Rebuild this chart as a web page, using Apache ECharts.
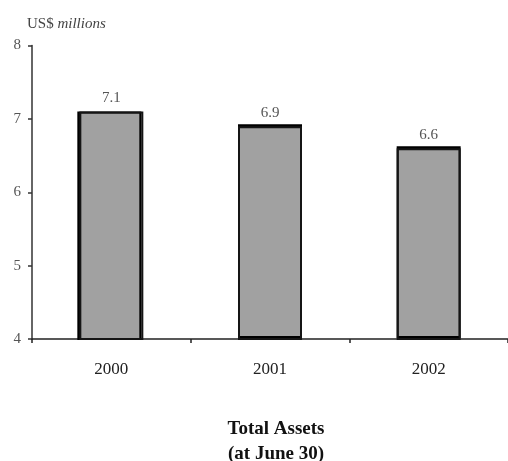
<!DOCTYPE html>
<html>
<head>
<meta charset="utf-8">
<script src="https://cdn.jsdelivr.net/npm/echarts@6/dist/echarts.min.js"></script>
<style>
  html, body { margin: 0; padding: 0; background: #fff; }
  #chart { width: 508px; height: 461px; }
</style>
</head>
<body>
<div id="chart"></div>
<script>
// Total assets by fiscal year (US$ millions, at June 30)
const years = ['2000', '2001', '2002'];
const totalAssets = [7.1, 6.9, 6.6];
const yTicks = { min: 4, max: 8, interval: 1 };

const serif = '"Liberation Serif", "DejaVu Serif", serif';

// heavier edge drawn on one side of each bar
const edgeShadow = [
  { shadowOffsetX: -2, shadowOffsetY: 0 },
  { shadowOffsetX: 0, shadowOffsetY: -2 },
  { shadowOffsetX: 0, shadowOffsetY: -2 }
];

const chart = echarts.init(document.getElementById('chart'), null, { renderer: 'canvas' });

chart.setOption({
  animation: false,
  backgroundColor: '#ffffff',
  grid: { left: 32, top: 45.5, width: 480, height: 293.5, containLabel: false },
  title: [
    {
      text: 'Total Assets\n(at June 30)',
      left: 271,
      textAlign: 'center',
      top: 412,
      textStyle: {
        fontFamily: serif,
        fontWeight: 'bold',
        fontSize: 19,
        lineHeight: 25,
        color: '#111'
      }
    }
  ],
  graphic: [
    {
      type: 'text',
      left: 27,
      top: 17,
      style: {
        rich: {
          a: { fontFamily: serif, fontSize: 15, fill: '#444' },
          b: { fontFamily: serif, fontSize: 15, fontStyle: 'italic', fill: '#444' }
        },
        text: '{a|US$ }{b|millions}'
      }
    }
  ],
  xAxis: {
    type: 'category',
    data: years,
    axisLine: { lineStyle: { color: '#222', width: 1.5 } },
    axisTick: {
      show: true,
      length: 4,
      inside: false,
      interval: 0,
      lineStyle: { color: '#222', width: 1.5 }
    },
    axisLabel: {
      margin: 22,
      fontFamily: serif,
      fontSize: 17,
      color: '#222'
    }
  },
  yAxis: {
    type: 'value',
    min: yTicks.min,
    max: yTicks.max,
    interval: yTicks.interval,
    splitLine: { show: false },
    axisLine: { show: true, lineStyle: { color: '#333', width: 1.5 } },
    axisTick: { show: true, length: 4, lineStyle: { color: '#333', width: 1.5 } },
    axisLabel: {
      margin: 11,
      fontFamily: serif,
      fontSize: 15,
      color: '#555'
    }
  },
  series: [
    {
      type: 'bar',
      barWidth: 64,
      data: totalAssets.map((v, i) => ({
        value: v,
        itemStyle: Object.assign({ shadowColor: '#000', shadowBlur: 0 }, edgeShadow[i])
      })),
      itemStyle: {
        color: '#a1a1a1',
        borderColor: '#151515',
        borderWidth: 2
      },
      label: {
        show: true,
        position: 'top',
        distance: 6,
        fontFamily: serif,
        fontSize: 15,
        color: '#555',
        formatter: (p) => p.value.toFixed(1)
      }
    }
  ]
});
</script>
</body>
</html>
